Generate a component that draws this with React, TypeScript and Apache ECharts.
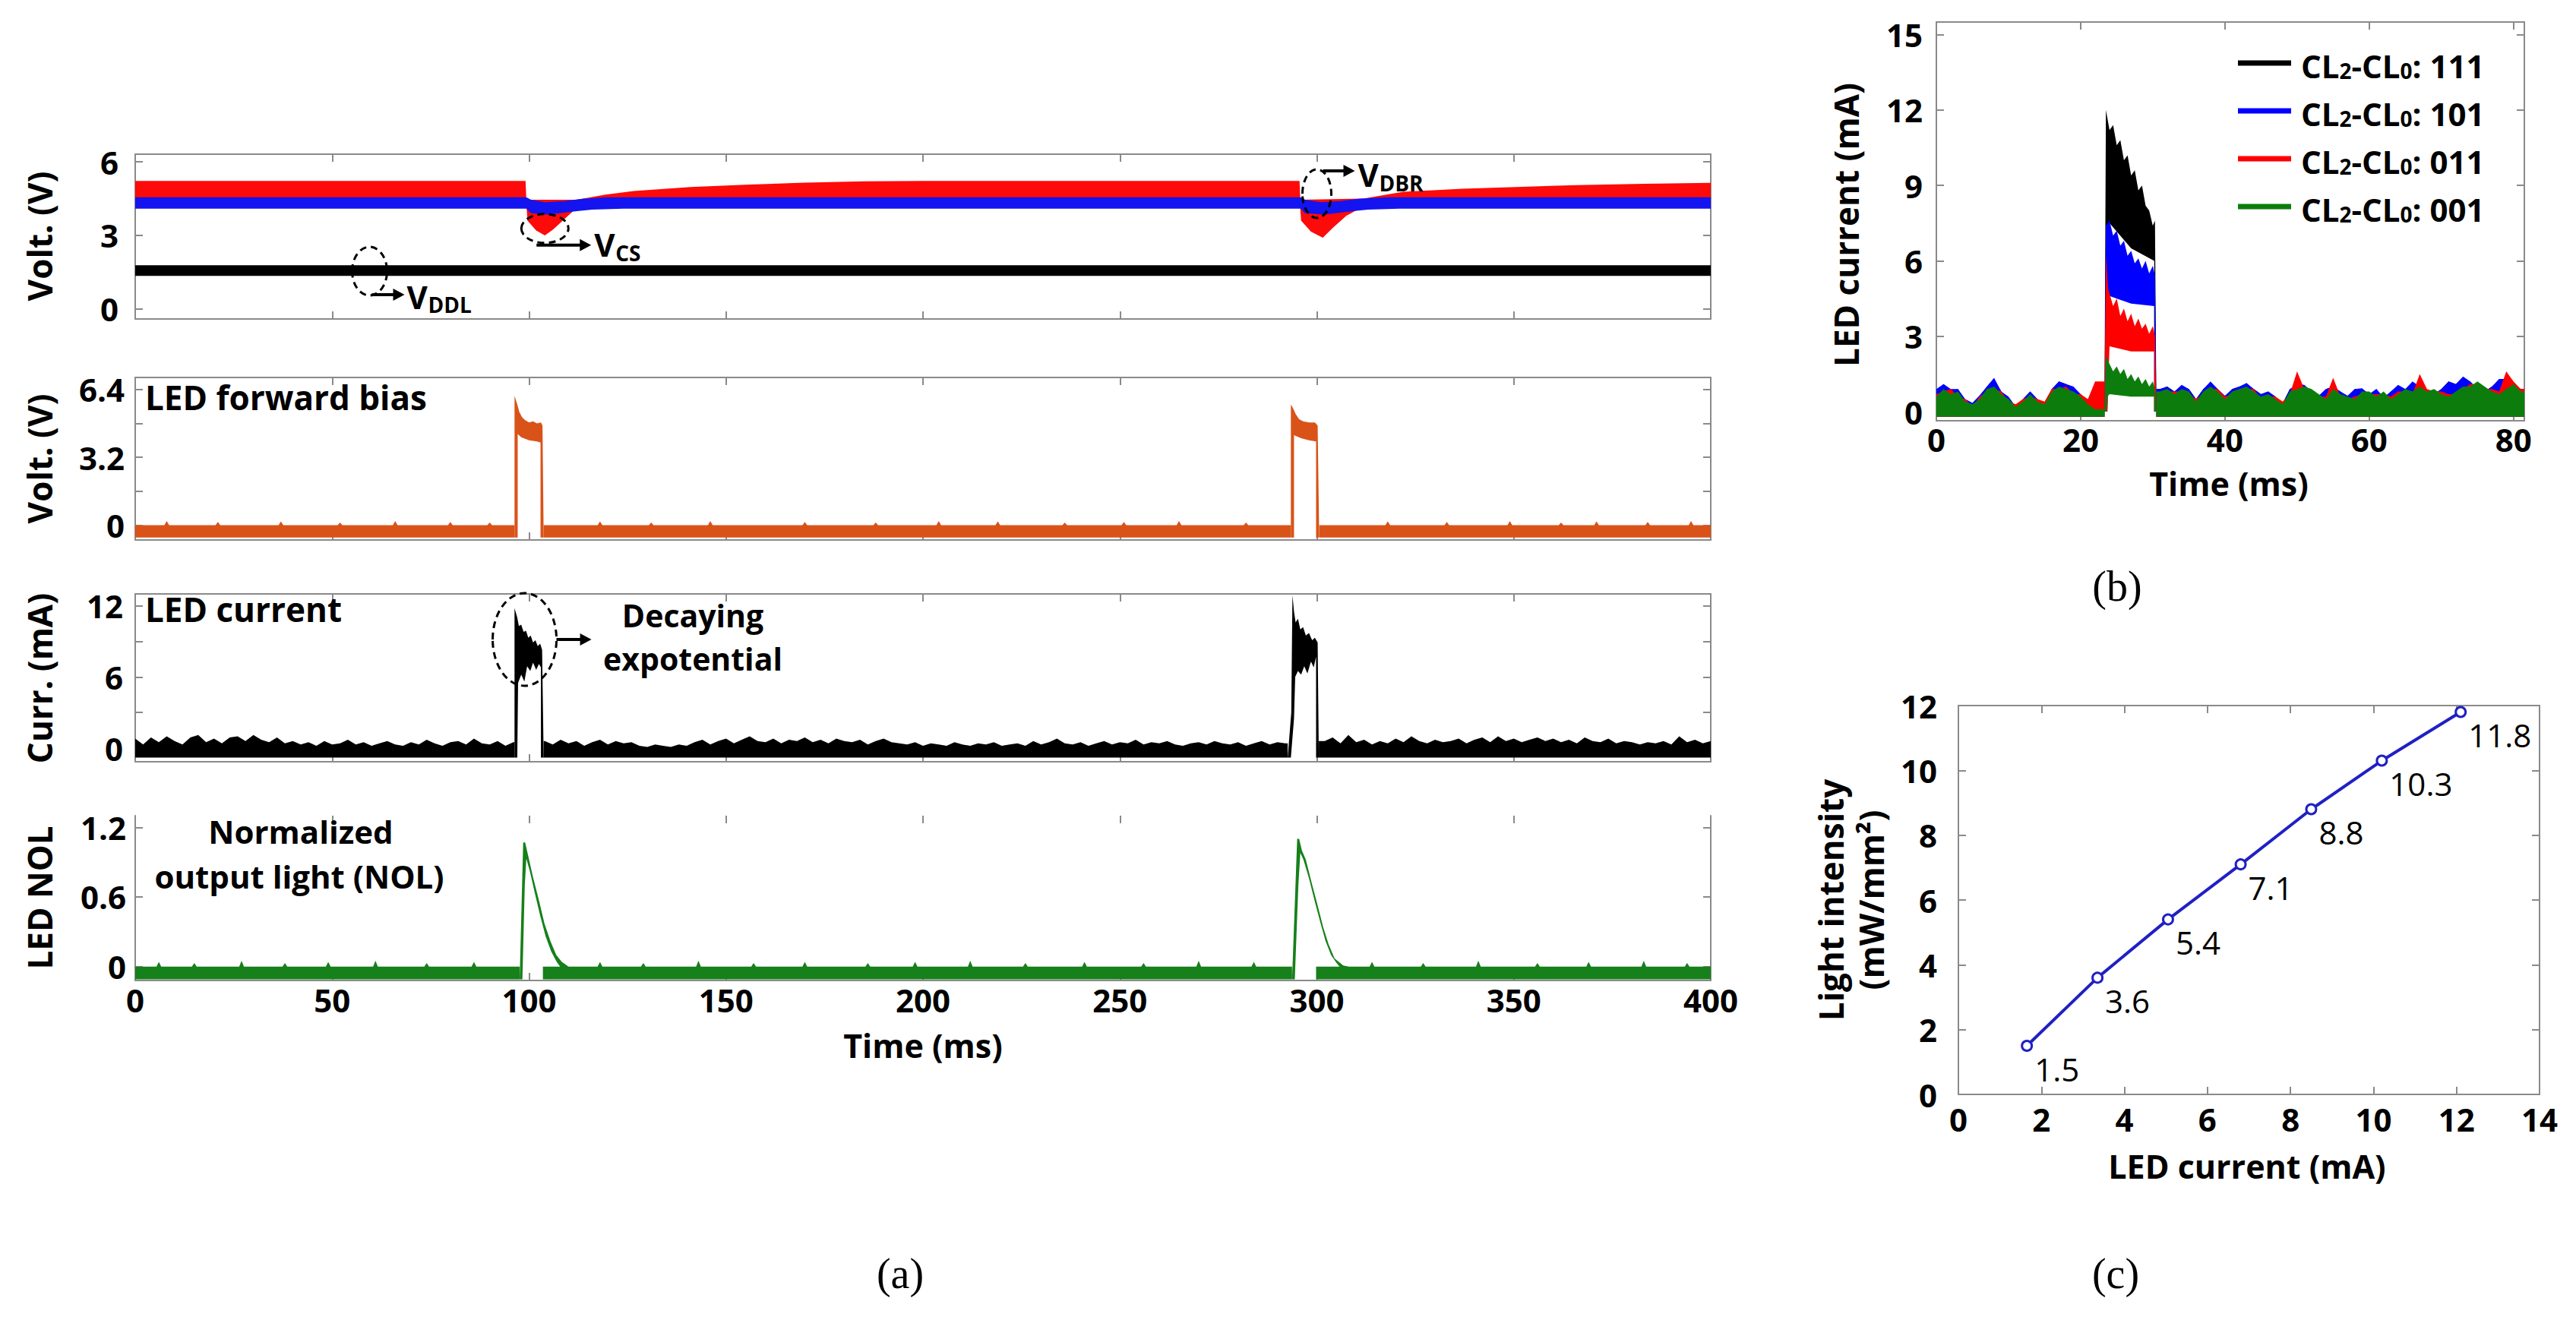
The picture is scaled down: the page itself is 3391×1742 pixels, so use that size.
import React, { useEffect, useRef } from "react";
import * as echarts from "echarts";

type Pt = [number, number];

const W = 3391;
const H = 1742;
const SANS = '"Open Sans", "Noto Sans", "DejaVu Sans", sans-serif';
const SERIF = '"Liberation Serif", "DejaVu Serif", serif';
const AX = "#8a8a8a";
const RED = "#ff0a0a";
const BLUE = "#1414f0";
const ORANGE = "#d95319";
const GREEN = "#16801a";
const CBLUE = "#2020c4";

// ---------------- tick values ----------------
const timeTicksA = [0, 50, 100, 150, 200, 250, 300, 350, 400];
const timeTicksB = [0, 20, 40, 60, 80];
const currentTicksC = [0, 2, 4, 6, 8, 10, 12, 14];
const voltTicks1 = [0, 3, 6];
const voltTicks2 = [0, 1.6, 3.2, 4.8, 6.4];
const voltLabels2 = [0, 3.2, 6.4];
const currTicks3 = [0, 3, 6, 9, 12];
const currLabels3 = [0, 6, 12];
const nolTicks4 = [0, 0.6, 1.2];
const currTicksB = [0, 3, 6, 9, 12, 15];
const intensityTicksC = [0, 2, 4, 6, 8, 10, 12];

// ---------------- (a) panel 1: supply voltages (noise envelopes, V vs ms) ----------------
const redUpper: Pt[] = [[0, 5.22], [99.1, 5.22], [99.3, 4.45], [112, 4.45], [119.4, 4.66], [126.6, 4.81], [141, 4.97], [156, 5.07], [170, 5.15], [185, 5.2], [200, 5.22], [295.6, 5.22], [295.8, 4.45], [311.8, 4.5], [322, 4.78], [337, 4.9], [352, 4.98], [366, 5.05], [383, 5.1], [400, 5.14]];
const redLower: Pt[] = [[0, 4.5], [99.2, 4.5], [99.6, 3.6], [101.8, 3.2], [104, 3.0], [106.2, 3.25], [109.9, 3.8], [112, 4.1], [115, 4.5], [295.6, 4.5], [296, 3.6], [298.5, 3.15], [301.5, 2.9], [304, 3.3], [307.5, 3.8], [311, 4.1], [314, 4.5], [400, 4.5]];
const blueUpper: Pt[] = [[0, 4.55], [99.3, 4.55], [100.5, 4.45], [104, 4.35], [109, 4.4], [114, 4.5], [120, 4.55], [295.9, 4.55], [297, 4.45], [301, 4.35], [306, 4.4], [311, 4.5], [318, 4.55], [400, 4.55]];
const blueLower: Pt[] = [[0, 4.09], [99.3, 4.09], [100.5, 3.9], [105, 3.85], [110, 3.95], [116, 4.05], [124, 4.09], [295.9, 4.09], [297, 3.9], [302, 3.85], [307, 3.95], [313, 4.05], [321, 4.09], [400, 4.09]];
const blackUpper: Pt[] = [[0, 1.78], [400, 1.78]];
const blackLower: Pt[] = [[0, 1.35], [400, 1.35]];

// ---------------- (a) panel 2: LED forward bias (V) ----------------
const a2BaseTop = 0.0;
const a2BaseBottom = -0.58;
const a2BaseSegs: Pt[] = [[0, 96.3], [103.7, 293.4], [300.6, 400]];
const a2Spikes: Pt[] = [[8, 0.2], [21, 0.15], [37, 0.18], [52, 0.12], [66, 0.2], [80, 0.15], [90, 0.12], [118, 0.18], [131, 0.12], [146, 0.2], [170, 0.15], [188, 0.12], [204, 0.2], [219, 0.18], [236, 0.12], [251, 0.15], [265, 0.2], [282, 0.12], [318, 0.18], [333, 0.15], [349, 0.2], [362, 0.12], [371, 0.18], [384, 0.15], [395, 0.2]];
const a2Pulse1: Pt[] = [[96.3, -0.58], [96.3, 6.1], [97.0, 5.7], [97.5, 5.35], [98.2, 5.1], [99, 4.95], [100, 4.85], [101, 4.9], [102, 4.8], [103.0, 4.85], [103.4, 4.7], [103.7, -0.58], [102.9, -0.58], [102.9, 3.9], [102, 3.95], [100, 4.0], [98, 4.15], [97.1, 4.3], [97.1, -0.58]];
const a2Pulse2: Pt[] = [[293.4, -0.58], [293.4, 5.7], [294, 5.5], [294.6, 5.25], [295.5, 5.0], [296.5, 4.9], [298, 4.85], [299.5, 4.85], [300.2, 4.7], [300.6, -0.58], [299.8, -0.58], [299.8, 3.95], [298, 4.0], [296, 4.1], [294.2, 4.25], [294.2, -0.58]];

// ---------------- (a) panel 3: LED current (mA) ----------------
const a3Bottom = -0.8;
const a3Seg1 = [0.8, 0.3, 0.9, 0.5, 1.0, 0.6, 0.3, 0.9, 1.1, 0.5, 0.8, 0.4, 0.9, 1.0, 0.6, 1.1, 0.7, 0.5, 0.9, 0.4, 0.6, 0.3, 0.5, 0.2, 0.6, 0.3, 0.4, 0.7, 0.3, 0.5, 0.2, 0.4, 0.6, 0.3, 0.2, 0.5, 0.3, 0.7, 0.4, 0.2, 0.5, 0.6, 0.3, 0.8, 0.4, 0.3, 0.6, 0.2, 0.5];
const a3Seg2 = [0.6, 0.3, 0.7, 0.4, 0.6, 0.2, 0.5, 0.7, 0.3, 0.6, 0.4, 0.5, 0.2, 0.1, 0.3, 0.2, 0.1, 0.3, 0.2, 0.5, 0.7, 0.3, 0.6, 0.8, 0.4, 0.7, 1.0, 0.6, 0.5, 0.8, 0.4, 0.7, 0.6, 0.9, 0.5, 0.7, 0.4, 0.8, 0.6, 0.5, 0.7, 0.3, 0.6, 0.8, 0.5, 0.4, 0.3, 0.5, 0.2, 0.4, 0.3, 0.2, 0.5, 0.3, 0.2, 0.4, 0.3, 0.5, 0.2, 0.3, 0.4, 0.2, 0.6, 0.3, 0.5, 0.8, 0.4, 0.3, 0.5, 0.2, 0.4, 0.6, 0.3, 0.5, 0.4, 0.7, 0.3, 0.5, 0.4, 0.6, 0.3, 0.2, 0.4, 0.5, 0.3, 0.6, 0.4, 0.3, 0.5, 0.2, 0.4, 0.6, 0.3, 0.5, 0.4];
const a3Seg3 = [0.6, 0.9, 0.4, 1.1, 0.5, 0.7, 0.3, 0.6, 0.4, 0.8, 0.5, 1.0, 0.6, 0.4, 0.7, 0.5, 0.6, 0.8, 0.4, 0.7, 0.9, 0.5, 1.0, 0.6, 0.8, 0.5, 0.7, 0.9, 0.6, 0.8, 0.5, 0.7, 0.4, 0.9, 0.6, 0.5, 0.8, 0.4, 0.6, 0.5, 0.3, 0.5, 0.4, 0.6, 0.3, 1.0, 0.5, 0.7, 0.4, 0.6];
const a3Pulse1: Pt[] = [[96.3, -0.8], [96.3, 11.8], [97.0, 11.0], [97.4, 10.3], [98, 10.4], [98.6, 9.8], [99.2, 9.9], [99.8, 9.3], [100.4, 9.5], [101, 8.9], [101.6, 9.1], [102.2, 8.6], [102.8, 8.8], [103.3, 8.3], [103.7, -0.8], [103.0, -0.8], [103.0, 6.8], [102.5, 7.1], [101.8, 6.6], [101, 7.2], [100.3, 6.5], [99.5, 6.9], [98.8, 5.6], [98, 6.2], [97.2, 5.5], [97.0, -0.8]];
const a3Pulse2: Pt[] = [[292.6, -0.8], [293.5, 3.0], [293.8, 12.9], [294.2, 11.5], [294.6, 10.6], [295.2, 10.9], [295.8, 10.0], [296.5, 10.2], [297.2, 9.5], [298, 9.7], [298.8, 9.1], [299.5, 9.3], [300.2, 8.9], [300.5, -0.8], [299.8, -0.8], [299.8, 7.7], [299.2, 6.8], [298.5, 7.3], [297.6, 6.3], [296.8, 6.9], [296, 6.2], [295.2, 6.5], [294.5, 6.0], [294.2, 2.5], [293.4, -0.8]];

// ---------------- (a) panel 4: normalized output light ----------------
const a4BaseTop = 0.0;
const a4BaseBottom = -0.11;
const a4BaseSegs: Pt[] = [[0, 97.6], [103.5, 293.7], [299.8, 400]];
const a4Spikes: Pt[] = [[6, 0.04], [15, 0.03], [27, 0.05], [38, 0.03], [49, 0.04], [61, 0.05], [74, 0.03], [86, 0.04], [118, 0.04], [129, 0.03], [143, 0.05], [157, 0.03], [170, 0.04], [186, 0.03], [198, 0.04], [212, 0.05], [226, 0.03], [241, 0.04], [256, 0.03], [270, 0.05], [284, 0.04], [314, 0.04], [327, 0.03], [341, 0.05], [356, 0.03], [369, 0.04], [383, 0.05], [394, 0.03]];
const a4Pulse1: Pt[] = [[97.6, -0.11], [98.5, 1.07], [99.0, 1.07], [99.6, 0.98], [101, 0.77], [102.5, 0.57], [103.9, 0.37], [105.4, 0.22], [106.9, 0.1], [108.3, 0.04], [110, 0.0], [108.5, -0.03], [107, 0.04], [105.6, 0.13], [104.2, 0.26], [102.8, 0.44], [101.4, 0.64], [100.2, 0.82], [99.3, 0.93], [98.9, 0.7], [98.3, -0.11]];
const a4Pulse2: Pt[] = [[293.7, -0.11], [295.0, 1.1], [295.5, 1.1], [296.2, 1.0], [297.2, 0.92], [298.7, 0.72], [300.1, 0.54], [301.6, 0.34], [303, 0.19], [304.5, 0.07], [306.7, 0.01], [308, 0.0], [306.5, -0.03], [305, 0.03], [303.6, 0.1], [302.2, 0.22], [300.8, 0.39], [299.4, 0.57], [298, 0.76], [296.6, 0.92], [295.8, 0.98], [295.3, 0.7], [294.4, -0.11]];

// ---------------- (b) LED current for four codes ----------------
const legendNames = ["CL2-CL0: 111", "CL2-CL0: 101", "CL2-CL0: 011", "CL2-CL0: 001"];
const bBottom = -0.2;
const bBlackPre = [0.8, 1.1, 0.8, 0.9, 0.4, 0.3, 0.6, 1.0, 1.3, 0.8, 0.5, 0.2, 0.5, 0.8, 0.5, 0.3, 0.9, 1.2, 1.1, 0.9, 0.7, 0.4, 0.2];
const bBluePre = [0.9, 1.1, 0.9, 0.9, 0.5, 0.35, 0.65, 1.0, 1.35, 0.8, 0.6, 0.2, 0.5, 0.8, 0.5, 0.35, 0.9, 1.2, 1.1, 1.0, 0.7, 0.4, 0.2];
const bRedPre = [0.7, 0.8, 0.9, 0.6, 0.5, 0.2, 0.6, 0.8, 0.9, 0.8, 0.4, 0.3, 0.5, 0.6, 0.5, 0.4, 0.9, 0.9, 1.0, 0.7, 0.7, 0.5, 1.2];
const bGreenPre = [0.6, 0.9, 0.7, 0.8, 0.4, 0.3, 0.5, 0.9, 1.0, 0.7, 0.5, 0.2, 0.4, 0.7, 0.4, 0.3, 0.8, 1.0, 0.9, 0.8, 0.6, 0.3, 0.1];
const bBlackPost = [0.9, 1.0, 0.8, 1.0, 0.9, 0.5, 0.9, 1.1, 0.9, 0.6, 0.9, 1.0, 1.1, 0.9, 0.7, 0.8, 0.6, 0.3, 0.9, 1.0, 1.0, 0.8, 0.6, 0.9, 1.0, 0.8, 0.6, 0.9, 0.9, 0.7, 0.9, 0.5, 0.8, 1.0, 0.9, 1.1, 1.0, 0.8, 0.7, 0.9, 1.2, 1.1, 1.3, 1.2, 0.9, 0.8, 1.0, 1.2, 1.3, 1.0, 0.9];
const bBluePost = [0.9, 1.0, 0.8, 1.07, 0.9, 0.5, 0.9, 1.2, 0.9, 0.64, 0.9, 1.0, 1.14, 0.9, 0.7, 0.8, 0.6, 0.35, 0.9, 1.1, 1.07, 0.8, 0.64, 0.9, 1.0, 0.8, 0.64, 0.9, 0.93, 0.7, 0.9, 0.57, 0.8, 1.07, 0.9, 1.2, 1.0, 0.8, 0.71, 0.9, 1.2, 1.1, 1.4, 1.2, 0.9, 0.8, 1.0, 1.3, 1.3, 1.07, 0.9];
const bRedPost = [0.7, 0.8, 0.8, 0.8, 0.7, 0.5, 0.7, 0.9, 0.9, 0.6, 0.7, 0.8, 0.9, 0.9, 0.5, 0.6, 0.6, 0.4, 0.7, 1.6, 0.9, 0.8, 0.6, 0.6, 1.35, 0.6, 0.5, 0.6, 0.7, 0.7, 0.7, 0.7, 0.6, 0.8, 0.8, 0.7, 1.5, 0.9, 0.8, 0.8, 0.7, 0.7, 0.9, 1.1, 1.1, 0.9, 0.9, 0.8, 1.6, 1.2, 0.9];
const bGreenPost = [0.8, 0.9, 0.7, 0.9, 0.8, 0.4, 0.8, 1.0, 0.8, 0.5, 0.8, 0.9, 1.0, 0.8, 0.6, 0.7, 0.5, 0.3, 0.8, 0.9, 1.0, 0.9, 0.7, 0.5, 0.9, 0.7, 0.6, 0.5, 0.8, 0.8, 0.6, 0.8, 0.5, 0.7, 0.9, 0.8, 1.0, 0.8, 0.9, 0.7, 0.6, 0.8, 1.0, 1.0, 1.2, 1.0, 0.8, 0.7, 0.9, 1.1, 0.8];
const bBlackPulse: Pt[] = [[23.3, 0], [23.5, 12.0], [24, 11.2], [24.5, 11.4], [25, 10.6], [25.5, 10.8], [26, 10.0], [26.5, 10.2], [27, 9.4], [27.5, 9.6], [28, 8.8], [28.5, 9.0], [29, 8.2], [29.5, 8.0], [30, 7.4], [30.3, 7.6], [30.5, 0], [30.2, 0], [30.2, 6.0], [27, 6.5], [24, 7.5], [23.7, 0]];
const bBluePulse: Pt[] = [[23.3, 0], [23.5, 7.4], [24, 7.6], [24.5, 7.0], [25, 7.2], [25.5, 6.6], [26, 6.8], [26.5, 6.2], [27, 6.4], [27.5, 5.9], [28, 6.1], [28.5, 5.7], [29, 6.0], [29.5, 5.5], [30, 5.8], [30.3, 5.4], [30.5, 0], [30.2, 0], [30.2, 4.2], [27, 4.3], [24, 4.6], [23.7, 0]];
const bRedPulse: Pt[] = [[23.3, 0], [23.5, 6.2], [23.8, 4.9], [24, 4.7], [24.5, 4.2], [25, 4.5], [25.5, 3.8], [26, 4.1], [26.5, 3.6], [27, 3.9], [27.5, 3.4], [28, 3.7], [28.5, 3.3], [29, 3.5], [29.5, 3.1], [30, 3.4], [30.3, 3.0], [30.5, 0], [30.2, 0], [30.2, 2.4], [27, 2.4], [24, 2.6], [23.7, 0]];
const bGreenPulse: Pt[] = [[23.3, 0], [23.5, 2.2], [24, 1.9], [24.5, 1.6], [25, 1.8], [25.5, 1.5], [26, 1.7], [26.5, 1.3], [27, 1.5], [27.5, 1.2], [28, 1.4], [28.5, 1.1], [29, 1.3], [29.5, 1.0], [30, 1.2], [30.3, 0.9], [30.5, 0], [30.2, 0], [30.2, 0.6], [27, 0.6], [24, 0.7], [23.7, 0.6], [23.6, 0]];

// ---------------- (c) light intensity vs LED current ----------------
const cCurrent = [1.65, 3.35, 5.05, 6.8, 8.5, 10.2, 12.1];
const cIntensity = [1.5, 3.6, 5.4, 7.1, 8.8, 10.3, 11.8];

// ---------------- layout ----------------
const A_LEFT = 178;
const A_WIDTH = 2074;
const grids = [
  { left: A_LEFT, top: 203, width: A_WIDTH, height: 217 },
  { left: A_LEFT, top: 497, width: A_WIDTH, height: 214 },
  { left: A_LEFT, top: 782, width: A_WIDTH, height: 221 },
  { left: A_LEFT, top: 1074, width: A_WIDTH, height: 217 },
  { left: 2549, top: 29, width: 774, height: 525 },
  { left: 2578, top: 929, width: 765, height: 512 },
];
const xRange: Pt[] = [[0, 400], [0, 400], [0, 400], [0, 400], [0, 81.5], [0, 14]];
const yRange: Pt[] = [[-0.41, 6.31], [-0.7, 6.97], [-1.15, 13], [-0.12, 1.3], [-0.36, 15.5], [0, 12]];
const xTicks = [timeTicksA, timeTicksA, timeTicksA, timeTicksA, timeTicksB, currentTicksC];
const xLabelShow = [false, false, false, true, true, true];
const xLabelMargin = [4, 4, 4, 4, 3, 11];
const yTicks = [voltTicks1, voltTicks2, currTicks3, nolTicks4, currTicksB, intensityTicksC];
const yLabels = [voltTicks1, voltLabels2, currLabels3, nolTicks4, currTicksB, intensityTicksC];
const yLabelMargin = [22, 14, 16, 12, 18, 28];
const topLine = [true, true, true, false, true, true];

// ---------------- helpers ----------------
const band = (upper: Pt[], lower: Pt[]): Pt[] => [...upper, ...lower.slice().reverse()];
const zig = (s: number, e: number, t0: number, step: number, vals: number[], bottom: number): Pt[] => {
  const pts: Pt[] = [[s, vals[0]]];
  vals.forEach((v, i) => pts.push([t0 + i * step, v]));
  pts.push([e, vals[vals.length - 1]], [e, bottom], [s, bottom]);
  return pts;
};
const spiky = (seg: Pt, top: number, bottom: number, spikes: Pt[], w: number): Pt[] => {
  const [s, e] = seg;
  const pts: Pt[] = [[s, top]];
  spikes.filter(([t]) => t - w > s && t + w < e).forEach(([t, h]) => {
    pts.push([t - w, top], [t, top + h], [t + w, top]);
  });
  pts.push([e, top], [e, bottom], [s, bottom]);
  return pts;
};

function polySeries(name: string, g: number, polys: Pt[][], color: string, z = 2) {
  return {
    type: "custom",
    name,
    coordinateSystem: "cartesian2d",
    xAxisIndex: g * 2,
    yAxisIndex: g * 2,
    data: polys.map((_, i) => [i, 0]),
    itemStyle: { color },
    silent: true,
    clip: true,
    z,
    renderItem: (params: any, api: any) => {
      const pts = polys[params.dataIndex].map((p) => api.coord(p));
      return { type: "polygon", shape: { points: pts }, style: { fill: color } };
    },
  };
}

function buildOption() {
  const xAxis: any[] = [];
  const yAxis: any[] = [];
  grids.forEach((_, g) => {
    const lineStyle = { color: AX, width: 2 };
    const tickBase = { show: true, inside: true, length: 10, lineStyle };
    const xc = {
      type: "value", gridIndex: g, min: xRange[g][0], max: xRange[g][1],
      splitLine: { show: false },
      axisTick: { ...tickBase, customValues: xTicks[g] },
    };
    xAxis.push({
      ...xc, position: "bottom",
      axisLine: { show: true, onZero: false, lineStyle },
      axisLabel: {
        show: xLabelShow[g], customValues: xTicks[g], margin: xLabelMargin[g],
        color: "#000", fontSize: 42, fontWeight: "bold", fontFamily: SANS,
      },
    });
    xAxis.push({
      ...xc, position: "top",
      axisLine: { show: topLine[g], onZero: false, lineStyle },
      axisLabel: { show: false },
    });
    const yc = {
      type: "value", gridIndex: g, min: yRange[g][0], max: yRange[g][1],
      splitLine: { show: false },
      axisTick: { ...tickBase, customValues: yTicks[g] },
      axisLine: { show: true, onZero: false, lineStyle },
    };
    yAxis.push({
      ...yc, position: "left",
      axisLabel: {
        show: true, customValues: yLabels[g], margin: yLabelMargin[g],
        color: "#000", fontSize: 42, fontWeight: "bold", fontFamily: SANS,
      },
    });
    yAxis.push({ ...yc, position: "right", axisLabel: { show: false } });
  });

  const series: any[] = [
    // (a) 1
    polySeries("red", 0, [band(redUpper, redLower)], RED),
    polySeries("blue", 0, [band(blueUpper, blueLower)], BLUE),
    polySeries("black", 0, [band(blackUpper, blackLower)], "#000"),
    // (a) 2
    polySeries("forward bias", 1, [...a2BaseSegs.map((s) => spiky(s, a2BaseTop, a2BaseBottom, a2Spikes, 0.6)), a2Pulse1, a2Pulse2], ORANGE),
    // (a) 3
    polySeries("LED current", 2, [
      zig(0, 96.3, 0, 2, a3Seg1, a3Bottom),
      zig(103.7, 292.6, 104, 2, a3Seg2, a3Bottom),
      zig(300.5, 400, 302, 2, a3Seg3, a3Bottom),
      a3Pulse1, a3Pulse2,
    ], "#000"),
    // (a) 4
    polySeries("NOL", 3, [...a4BaseSegs.map((s) => spiky(s, a4BaseTop, a4BaseBottom, a4Spikes, 0.6)), a4Pulse1, a4Pulse2], GREEN),
    // (b)
    polySeries(legendNames[0], 4, [zig(0, 23.3, 0, 1, bBlackPre, bBottom), zig(30.5, 81.5, 31, 1, bBlackPost, bBottom), bBlackPulse], "#000"),
    polySeries(legendNames[1], 4, [zig(0, 23.3, 0, 1, bBluePre, bBottom), zig(30.5, 81.5, 31, 1, bBluePost, bBottom), bBluePulse], "#0000ff"),
    polySeries(legendNames[2], 4, [zig(0, 23.3, 0, 1, bRedPre, bBottom), zig(30.5, 81.5, 31, 1, bRedPost, bBottom), bRedPulse], "#ff0000"),
    polySeries(legendNames[3], 4, [zig(0, 23.3, 0, 1, bGreenPre, bBottom), zig(30.5, 81.5, 31, 1, bGreenPost, bBottom), bGreenPulse], "#0c7d0c"),
    // (c)
    {
      type: "line",
      name: "Light intensity",
      xAxisIndex: 10,
      yAxisIndex: 10,
      data: cCurrent.map((x, i) => [x, cIntensity[i]]),
      lineStyle: { color: CBLUE, width: 4 },
      symbol: "circle",
      symbolSize: 13,
      itemStyle: { color: "#ffffff", borderColor: CBLUE, borderWidth: 3 },
      label: {
        show: true, position: "right", distance: 2, offset: [0, 30],
        formatter: (p: any) => Number(p.value[1]).toFixed(1),
        fontSize: 42, color: "#000", fontFamily: SANS,
      },
      silent: true,
      z: 5,
    },
  ];

  return {
    animation: false,
    backgroundColor: "#ffffff",
    grid: grids.map((g) => ({ ...g, containLabel: false, outerBoundsMode: "none", show: false })),
    xAxis,
    yAxis,
    legend: {
      data: legendNames,
      orient: "vertical",
      left: 2941,
      top: 60,
      icon: "rect",
      itemWidth: 70,
      itemHeight: 7,
      itemGap: 21,
      selectedMode: false,
      formatter: (name: string) => `{g|}{n|CL}{s|2}{n|-CL}{s|0}{n|: ${name.split(": ")[1]}}`,
      textStyle: {
        color: "#000",
        fontFamily: SANS,
        rich: {
          g: { width: 8 },
          n: { fontSize: 42, fontWeight: "bold", fontFamily: SANS, color: "#000", lineHeight: 48, verticalAlign: "bottom" },
          s: { fontSize: 28, fontWeight: "bold", fontFamily: SANS, color: "#000", lineHeight: 16, verticalAlign: "bottom" },
        },
      },
    },
    series,
  };
}

// ---------------- static texts (pixel layout) ----------------
const A_CENTER = A_LEFT + A_WIDTH / 2;
type T = { t: string; x: number; y: number; rot?: boolean; align?: string; serif?: boolean; size?: number; weight?: string };
const texts: T[] = [
  { t: "Volt. (V)", x: 52, y: 311, rot: true },
  { t: "Volt. (V)", x: 52, y: 604, rot: true },
  { t: "Curr. (mA)", x: 52, y: 893, rot: true },
  { t: "LED NOL", x: 52, y: 1182, rot: true },
  { t: "Time (ms)", x: A_CENTER, y: 1376, size: 43 },
  { t: "LED forward bias", x: 191, y: 523, align: "left" },
  { t: "LED current", x: 191, y: 802, align: "left" },
  { t: "Decaying", x: 912, y: 810, size: 41 },
  { t: "expotential", x: 912, y: 867, size: 41 },
  { t: "Normalized", x: 396, y: 1094, size: 42 },
  { t: "output light (NOL)", x: 394, y: 1153, size: 42 },
  { t: "LED current (mA)", x: 2430, y: 296, rot: true },
  { t: "Time (ms)", x: 2934, y: 636, size: 43 },
  { t: "Light intensity", x: 2410, y: 1185, rot: true },
  { t: "(mW/mm\u00b2)", x: 2463, y: 1185, rot: true },
  { t: "LED current (mA)", x: 2958, y: 1535, size: 43 },
  { t: "(a)", x: 1185, y: 1677, serif: true, size: 56, weight: "normal" },
  { t: "(b)", x: 2787, y: 772, serif: true, size: 56, weight: "normal" },
  { t: "(c)", x: 2785, y: 1677, serif: true, size: 56, weight: "normal" },
];

// annotations anchored in data coordinates (grid index, [t, value]) with pixel offsets
type A = { g: number; at: Pt; rx: number; ry: number; arrow: number[]; v?: string; sub?: string; tx?: number; ty?: number };
const annos: A[] = [
  { g: 0, at: [59.5, 1.54], rx: 23, ry: 32, arrow: [3, 31, 46, 31], v: "V", sub: "DDL", tx: 49, ty: 33 },
  { g: 0, at: [104, 3.28], rx: 31, ry: 19, arrow: [-11, 22, 61, 22], v: "V", sub: "CS", tx: 65, ty: 21 },
  { g: 0, at: [300, 4.7], rx: 19, ry: 32, arrow: [8, -30, 50, -30], v: "V", sub: "DBR", tx: 54, ty: -25 },
  { g: 2, at: [98.85, 9.16], rx: 42, ry: 61, arrow: [42, 0, 88, 0] },
];

function buildGraphics(chart: any) {
  const els: any[] = [];
  texts.forEach((d) => {
    els.push({
      type: "text",
      x: d.x,
      y: d.y,
      rotation: d.rot ? Math.PI / 2 : 0,
      z: 100,
      style: {
        text: d.t,
        fill: "#000",
        fontSize: d.size || 44,
        fontWeight: d.weight || "bold",
        fontFamily: d.serif ? SERIF : SANS,
        align: d.align || "center",
        verticalAlign: "middle",
      },
    });
  });
  annos.forEach((a) => {
    const p = chart.convertToPixel({ xAxisIndex: a.g * 2, yAxisIndex: a.g * 2 }, a.at);
    if (!p) return;
    const [cx, cy] = p;
    els.push({
      type: "ellipse", z: 100,
      shape: { cx, cy, rx: a.rx, ry: a.ry },
      style: { fill: "none", stroke: "#000", lineWidth: 3, lineDash: [9, 6] },
    });
    const [x1, y1, x2, y2] = a.arrow;
    els.push({
      type: "line", z: 100,
      shape: { x1: cx + x1, y1: cy + y1, x2: cx + x2 - 8, y2: cy + y2 },
      style: { stroke: "#000", lineWidth: 4 },
    });
    els.push({
      type: "polygon", z: 100,
      shape: { points: [[cx + x2, cy + y2], [cx + x2 - 15, cy + y2 - 8], [cx + x2 - 15, cy + y2 + 8]] },
      style: { fill: "#000" },
    });
    if (a.v) {
      els.push({
        type: "text", z: 100, x: cx + (a.tx || 0), y: cy + (a.ty || 0),
        style: { text: a.v, fill: "#000", fontSize: 42, fontWeight: "bold", fontFamily: SANS, align: "left", verticalAlign: "middle" },
      });
      els.push({
        type: "text", z: 100, x: cx + (a.tx || 0) + 28, y: cy + (a.ty || 0) + 11,
        style: { text: a.sub, fill: "#000", fontSize: 28, fontWeight: "bold", fontFamily: SANS, align: "left", verticalAlign: "middle" },
      });
    }
  });
  return els;
}

export default function App() {
  const ref = useRef<HTMLDivElement>(null);
  useEffect(() => {
    if (!ref.current) return;
    const chart = echarts.init(ref.current, undefined, { renderer: "svg", width: W, height: H });
    chart.setOption(buildOption() as any);
    chart.setOption({ graphic: buildGraphics(chart) } as any);
    return () => chart.dispose();
  }, []);
  return (
    <div
      ref={ref}
      style={{ position: "fixed", left: 0, top: 0, width: W, height: H, background: "#ffffff" }}
    />
  );
}
